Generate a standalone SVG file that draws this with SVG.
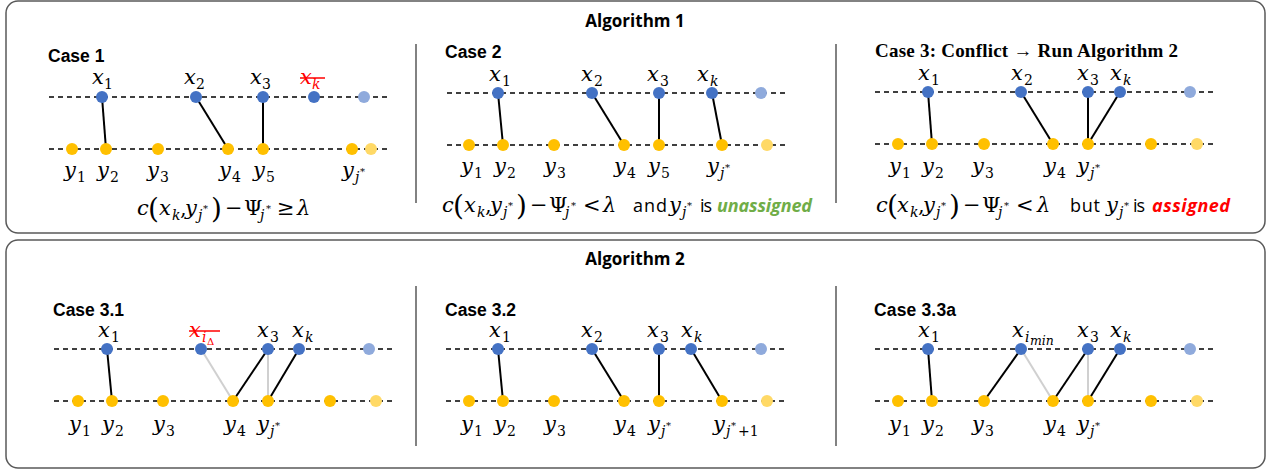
<svg xmlns="http://www.w3.org/2000/svg" width="1271" height="470" viewBox="0 0 1271 470">
<style>
.box{fill:#fff;stroke:#595959;stroke-width:1.5}
.sep{stroke:#595959;stroke-width:1.5}
.dash{stroke:#000;stroke-width:1.5;stroke-dasharray:5 4}
.e{stroke:#000;stroke-width:2}
.g{stroke:#D0D0D0;stroke-width:2}
.b{fill:#4472C4}.lb{fill:#8FAADC}.yl{fill:#FFC000}.ly{fill:#FFD966}
.title{font-family:"Open Sans","Liberation Sans",sans-serif;font-weight:bold;font-size:17px;fill:#000}
.case{font-family:"Liberation Sans",Arial,sans-serif;font-weight:bold;font-size:17.5px;fill:#000}
.case3{font-family:"Liberation Serif","Times New Roman",serif;font-weight:bold;font-size:19px;fill:#000}
.m{font-family:"DejaVu Serif",serif;font-style:italic;font-size:21px;fill:#000}
.u{font-style:normal}
.s{font-size:14px}
.st{font-size:10px;font-style:normal}
.ss{font-size:10px}
.mn{font-size:12.5px}
.big{font-size:28px;font-style:normal}
.t{font-family:"Open Sans","Liberation Sans",sans-serif;font-size:18px;fill:#000}
.bi{font-family:"Open Sans","Liberation Sans",sans-serif;font-size:18px;font-weight:bold;font-style:italic}
.red{fill:#FF0000}
.strike{stroke:#FF0000;stroke-width:1.5}
</style>
<rect class="box" x="6" y="1" width="1259" height="232" rx="12"/>
<rect class="box" x="6" y="240" width="1259" height="228" rx="12"/>
<text class="title" x="635" y="27" text-anchor="middle">Algorithm 1</text>
<text class="title" x="635" y="265" text-anchor="middle">Algorithm 2</text>
<line class="sep" x1="416" y1="44" x2="416" y2="203"/>
<line class="sep" x1="836" y1="44" x2="836" y2="203"/>
<line class="sep" x1="416" y1="286" x2="416" y2="446"/>
<line class="sep" x1="836" y1="286" x2="836" y2="446"/>

<!-- ===== Case 1 ===== -->
<g id="case1">
<text class="case" x="48" y="62">Case 1</text>
<line class="dash" x1="49" y1="97" x2="388" y2="97"/>
<line class="dash" x1="49" y1="149" x2="388" y2="149"/>
<g id="c1-edges">
<line class="e" x1="102" y1="97" x2="106" y2="149"/>
<line class="e" x1="196" y1="97" x2="228" y2="149"/>
<line class="e" x1="263" y1="97" x2="263" y2="149"/>
</g>
<g id="c1-x1"><circle class="b" cx="102" cy="97" r="6"/><text class="m" x="92" y="84">x<tspan class="s u" x="104" y="89">1</tspan></text></g>
<g id="c1-x2"><circle class="b" cx="196" cy="97" r="6"/><text class="m" x="184" y="84">x<tspan class="s u" x="196" y="89">2</tspan></text></g>
<g id="c1-x3"><circle class="b" cx="263" cy="97" r="6"/><text class="m" x="250" y="84">x<tspan class="s u" x="262" y="89">3</tspan></text></g>
<g id="c1-xk"><circle class="b" cx="314" cy="97" r="6"/><text class="m red" x="300" y="84">x<tspan class="s" x="312" y="89">k</tspan></text><line class="strike" x1="300" y1="78" x2="325" y2="78"/></g>
<g id="c1-xn"><circle class="lb" cx="364" cy="97" r="6"/></g>
<g id="c1-y1"><circle class="yl" cx="72" cy="149" r="6"/><text class="m" x="64" y="177">y<tspan class="s u" x="77" y="182">1</tspan></text></g>
<g id="c1-y2"><circle class="yl" cx="106" cy="149" r="6"/><text class="m" x="97" y="177">y<tspan class="s u" x="110" y="182">2</tspan></text></g>
<g id="c1-y3"><circle class="yl" cx="158" cy="149" r="6"/><text class="m" x="147" y="177">y<tspan class="s u" x="160" y="182">3</tspan></text></g>
<g id="c1-y4"><circle class="yl" cx="228" cy="149" r="6"/><text class="m" x="219" y="177">y<tspan class="s u" x="232" y="182">4</tspan></text></g>
<g id="c1-y5"><circle class="yl" cx="263" cy="149" r="6"/><text class="m" x="253" y="177">y<tspan class="s u" x="266" y="182">5</tspan></text></g>
<g id="c1-yj"><circle class="yl" cx="352" cy="149" r="6"/><text class="m" x="342" y="177">y<tspan class="s" x="355" y="182">j</tspan><tspan class="st" x="360" y="175">*</tspan></text></g>
<g id="c1-yn"><circle class="ly" cx="371" cy="149" r="6"/></g>
<text class="m" y="215"><tspan x="137">c</tspan><tspan class="big" x="148" y="218">(</tspan><tspan x="159" y="215">x</tspan><tspan class="s" x="172" y="220">k</tspan><tspan class="u" x="180" y="215">,</tspan><tspan x="185">y</tspan><tspan class="s" x="198" y="220">j</tspan><tspan class="st" x="203" y="212">*</tspan><tspan class="big" x="211" y="218">)</tspan><tspan class="u" x="225" y="215">−</tspan><tspan class="u" x="244">Ψ</tspan><tspan class="s" x="260" y="220">j</tspan><tspan class="st" x="266" y="212">*</tspan><tspan class="u" x="277" y="215">≥</tspan><tspan x="297">λ</tspan></text>
</g>

<!-- ===== Case 2 ===== -->
<g id="case2">
<text class="case" x="445" y="58">Case 2</text>
<line class="dash" x1="447" y1="93" x2="787" y2="93"/>
<line class="dash" x1="447" y1="145" x2="787" y2="145"/>
<g id="c2-edges">
<line class="e" x1="498" y1="93" x2="503" y2="145"/>
<line class="e" x1="592" y1="93" x2="624" y2="145"/>
<line class="e" x1="659" y1="93" x2="659" y2="145"/>
<line class="e" x1="712" y1="93" x2="722" y2="145"/>
</g>
<g id="c2-x1"><circle class="b" cx="498" cy="93" r="6"/><text class="m" x="489" y="81">x<tspan class="s u" x="502" y="86">1</tspan></text></g>
<g id="c2-x2"><circle class="b" cx="592" cy="93" r="6"/><text class="m" x="581" y="81">x<tspan class="s u" x="594" y="86">2</tspan></text></g>
<g id="c2-x3"><circle class="b" cx="659" cy="93" r="6"/><text class="m" x="647" y="81">x<tspan class="s u" x="660" y="86">3</tspan></text></g>
<g id="c2-xk"><circle class="b" cx="712" cy="93" r="6"/><text class="m" x="697" y="81">x<tspan class="s" x="710" y="86">k</tspan></text></g>
<g id="c2-xn"><circle class="lb" cx="761" cy="93" r="6"/></g>
<g id="c2-y1"><circle class="yl" cx="469" cy="145" r="6"/><text class="m" x="461" y="173">y<tspan class="s u" x="474" y="178">1</tspan></text></g>
<g id="c2-y2"><circle class="yl" cx="503" cy="145" r="6"/><text class="m" x="494" y="173">y<tspan class="s u" x="507" y="178">2</tspan></text></g>
<g id="c2-y3"><circle class="yl" cx="554" cy="145" r="6"/><text class="m" x="544" y="173">y<tspan class="s u" x="557" y="178">3</tspan></text></g>
<g id="c2-y4"><circle class="yl" cx="624" cy="145" r="6"/><text class="m" x="614" y="173">y<tspan class="s u" x="627" y="178">4</tspan></text></g>
<g id="c2-y5"><circle class="yl" cx="659" cy="145" r="6"/><text class="m" x="648" y="173">y<tspan class="s u" x="661" y="178">5</tspan></text></g>
<g id="c2-yj"><circle class="yl" cx="722" cy="145" r="6"/><text class="m" x="707" y="173">y<tspan class="s" x="720" y="178">j</tspan><tspan class="st" x="725" y="171">*</tspan></text></g>
<g id="c2-yn"><circle class="ly" cx="767" cy="145" r="6"/></g>
<text class="m" y="212"><tspan x="442">c</tspan><tspan class="big" x="453" y="215">(</tspan><tspan x="464" y="212">x</tspan><tspan class="s" x="477" y="217">k</tspan><tspan class="u" x="485" y="212">,</tspan><tspan x="490">y</tspan><tspan class="s" x="503" y="217">j</tspan><tspan class="st" x="508" y="209">*</tspan><tspan class="big" x="516" y="215">)</tspan><tspan class="u" x="530" y="212">−</tspan><tspan class="u" x="549">Ψ</tspan><tspan class="s" x="565" y="217">j</tspan><tspan class="st" x="571" y="209">*</tspan><tspan class="u" x="583" y="212">&lt;</tspan><tspan x="603">λ</tspan><tspan x="669">y</tspan><tspan class="s" x="682" y="217">j</tspan><tspan class="st" x="687" y="209">*</tspan></text>
<text class="t" x="633" y="212" textLength="34">and</text>
<text class="t" x="700" y="212" textLength="12">is</text>
<text class="bi" x="717" y="212" fill="#70AD47" textLength="95">unassigned</text>
</g>

<!-- ===== Case 3 ===== -->
<g id="case3">
<text class="case3" x="875" y="57" textLength="303">Case 3: Conflict → Run Algorithm 2</text>
<line class="dash" x1="875" y1="92" x2="1217" y2="92"/>
<line class="dash" x1="875" y1="144" x2="1217" y2="144"/>
<g id="c3-edges">
<line class="e" x1="928" y1="92" x2="932" y2="144"/>
<line class="e" x1="1021" y1="92" x2="1053" y2="144"/>
<line class="e" x1="1088" y1="92" x2="1088" y2="144"/>
<line class="e" x1="1120" y1="92" x2="1088" y2="144"/>
</g>
<g id="c3-x1"><circle class="b" cx="928" cy="92" r="6"/><text class="m" x="918" y="80">x<tspan class="s u" x="931" y="85">1</tspan></text></g>
<g id="c3-x2"><circle class="b" cx="1021" cy="92" r="6"/><text class="m" x="1011" y="80">x<tspan class="s u" x="1024" y="85">2</tspan></text></g>
<g id="c3-x3"><circle class="b" cx="1088" cy="92" r="6"/><text class="m" x="1077" y="80">x<tspan class="s u" x="1090" y="85">3</tspan></text></g>
<g id="c3-xk"><circle class="b" cx="1120" cy="92" r="6"/><text class="m" x="1110" y="80">x<tspan class="s" x="1123" y="85">k</tspan></text></g>
<g id="c3-xn"><circle class="lb" cx="1190" cy="92" r="6"/></g>
<g id="c3-y1"><circle class="yl" cx="898" cy="144" r="6"/><text class="m" x="889" y="173">y<tspan class="s u" x="902" y="178">1</tspan></text></g>
<g id="c3-y2"><circle class="yl" cx="932" cy="144" r="6"/><text class="m" x="922" y="173">y<tspan class="s u" x="935" y="178">2</tspan></text></g>
<g id="c3-y3"><circle class="yl" cx="984" cy="144" r="6"/><text class="m" x="972" y="173">y<tspan class="s u" x="985" y="178">3</tspan></text></g>
<g id="c3-y4"><circle class="yl" cx="1053" cy="144" r="6"/><text class="m" x="1044" y="173">y<tspan class="s u" x="1057" y="178">4</tspan></text></g>
<g id="c3-yj"><circle class="yl" cx="1088" cy="144" r="6"/><text class="m" x="1077" y="173">y<tspan class="s" x="1090" y="178">j</tspan><tspan class="st" x="1095" y="171">*</tspan></text></g>
<g id="c3-y6"><circle class="yl" cx="1151" cy="144" r="6"/></g>
<g id="c3-yn"><circle class="ly" cx="1197" cy="144" r="6"/></g>
<text class="m" y="212"><tspan x="876">c</tspan><tspan class="big" x="887" y="215">(</tspan><tspan x="897" y="212">x</tspan><tspan class="s" x="910" y="217">k</tspan><tspan class="u" x="918" y="212">,</tspan><tspan x="923">y</tspan><tspan class="s" x="936" y="217">j</tspan><tspan class="st" x="941" y="209">*</tspan><tspan class="big" x="949" y="215">)</tspan><tspan class="u" x="963" y="212">−</tspan><tspan class="u" x="982">Ψ</tspan><tspan class="s" x="998" y="217">j</tspan><tspan class="st" x="1004" y="209">*</tspan><tspan class="u" x="1016" y="212">&lt;</tspan><tspan x="1037">λ</tspan><tspan x="1106">y</tspan><tspan class="s" x="1119" y="217">j</tspan><tspan class="st" x="1124" y="209">*</tspan></text>
<text class="t" x="1070" y="212" textLength="30">but</text>
<text class="t" x="1133" y="212" textLength="12">is</text>
<text class="bi" x="1152" y="212" fill="#FF0000" textLength="78">assigned</text>
</g>

<!-- ===== Case 3.1 ===== -->
<g id="case31">
<text class="case" x="53" y="316" textLength="71">Case 3.1</text>
<line class="dash" x1="54" y1="349" x2="395" y2="349"/>
<line class="dash" x1="54" y1="401" x2="395" y2="401"/>
<g id="c31-edges">
<line class="g" x1="201" y1="349" x2="233" y2="401"/>
<line class="g" x1="268" y1="349" x2="268" y2="401"/>
<line class="e" x1="107" y1="349" x2="112" y2="401"/>
<line class="e" x1="268" y1="349" x2="233" y2="401"/>
<line class="e" x1="299" y1="349" x2="268" y2="401"/>
</g>
<g id="c31-x1"><circle class="b" cx="107" cy="349" r="6"/><text class="m" x="98" y="337">x<tspan class="s u" x="111" y="342">1</tspan></text></g>
<g id="c31-xd"><circle class="b" cx="201" cy="349" r="6"/><text class="m red" x="189" y="337">x<tspan class="s" x="202" y="342">i</tspan><tspan class="ss u" x="207" y="345">Δ</tspan></text><line class="strike" x1="189" y1="331" x2="220" y2="331"/></g>
<g id="c31-x3"><circle class="b" cx="268" cy="349" r="6"/><text class="m" x="257" y="337">x<tspan class="s u" x="270" y="342">3</tspan></text></g>
<g id="c31-xk"><circle class="b" cx="299" cy="349" r="6"/><text class="m" x="292" y="337">x<tspan class="s" x="305" y="342">k</tspan></text></g>
<g id="c31-xn"><circle class="lb" cx="369" cy="349" r="6"/></g>
<g id="c31-y1"><circle class="yl" cx="78" cy="401" r="6"/><text class="m" x="69" y="431">y<tspan class="s u" x="82" y="436">1</tspan></text></g>
<g id="c31-y2"><circle class="yl" cx="112" cy="401" r="6"/><text class="m" x="102" y="431">y<tspan class="s u" x="115" y="436">2</tspan></text></g>
<g id="c31-y3"><circle class="yl" cx="163" cy="401" r="6"/><text class="m" x="153" y="431">y<tspan class="s u" x="166" y="436">3</tspan></text></g>
<g id="c31-y4"><circle class="yl" cx="233" cy="401" r="6"/><text class="m" x="224" y="431">y<tspan class="s u" x="237" y="436">4</tspan></text></g>
<g id="c31-yj"><circle class="yl" cx="268" cy="401" r="6"/><text class="m" x="257" y="431">y<tspan class="s" x="270" y="436">j</tspan><tspan class="st" x="275" y="429">*</tspan></text></g>
<g id="c31-y6"><circle class="yl" cx="330" cy="401" r="6"/></g>
<g id="c31-yn"><circle class="ly" cx="376" cy="401" r="6"/></g>
</g>

<!-- ===== Case 3.2 ===== -->
<g id="case32">
<text class="case" x="445" y="316" textLength="71">Case 3.2</text>
<line class="dash" x1="446" y1="349" x2="787" y2="349"/>
<line class="dash" x1="446" y1="401" x2="787" y2="401"/>
<g id="c32-edges">
<line class="e" x1="498" y1="349" x2="503" y2="401"/>
<line class="e" x1="592" y1="349" x2="624" y2="401"/>
<line class="e" x1="659" y1="349" x2="659" y2="401"/>
<line class="e" x1="691" y1="349" x2="722" y2="401"/>
</g>
<g id="c32-x1"><circle class="b" cx="498" cy="349" r="6"/><text class="m" x="489" y="337">x<tspan class="s u" x="502" y="342">1</tspan></text></g>
<g id="c32-x2"><circle class="b" cx="592" cy="349" r="6"/><text class="m" x="581" y="337">x<tspan class="s u" x="594" y="342">2</tspan></text></g>
<g id="c32-x3"><circle class="b" cx="659" cy="349" r="6"/><text class="m" x="647" y="337">x<tspan class="s u" x="660" y="342">3</tspan></text></g>
<g id="c32-xk"><circle class="b" cx="691" cy="349" r="6"/><text class="m" x="681" y="337">x<tspan class="s" x="694" y="342">k</tspan></text></g>
<g id="c32-xn"><circle class="lb" cx="761" cy="349" r="6"/></g>
<g id="c32-y1"><circle class="yl" cx="469" cy="401" r="6"/><text class="m" x="461" y="431">y<tspan class="s u" x="474" y="436">1</tspan></text></g>
<g id="c32-y2"><circle class="yl" cx="503" cy="401" r="6"/><text class="m" x="494" y="431">y<tspan class="s u" x="507" y="436">2</tspan></text></g>
<g id="c32-y3"><circle class="yl" cx="554" cy="401" r="6"/><text class="m" x="544" y="431">y<tspan class="s u" x="557" y="436">3</tspan></text></g>
<g id="c32-y4"><circle class="yl" cx="624" cy="401" r="6"/><text class="m" x="614" y="431">y<tspan class="s u" x="627" y="436">4</tspan></text></g>
<g id="c32-yj"><circle class="yl" cx="659" cy="401" r="6"/><text class="m" x="648" y="431">y<tspan class="s" x="661" y="436">j</tspan><tspan class="st" x="666" y="429">*</tspan></text></g>
<g id="c32-yj1"><circle class="yl" cx="722" cy="401" r="6"/><text class="m" x="713" y="431">y<tspan class="s" x="726" y="436">j</tspan><tspan class="st" x="731" y="429">*</tspan><tspan class="s u" x="738" y="436">+1</tspan></text></g>
<g id="c32-yn"><circle class="ly" cx="767" cy="401" r="6"/></g>
</g>

<!-- ===== Case 3.3a ===== -->
<g id="case33a">
<text class="case" x="874" y="316" textLength="82">Case 3.3a</text>
<line class="dash" x1="875" y1="349" x2="1217" y2="349"/>
<line class="dash" x1="875" y1="401" x2="1217" y2="401"/>
<g id="c33-edges">
<line class="g" x1="1021" y1="349" x2="1053" y2="401"/>
<line class="g" x1="1088" y1="349" x2="1088" y2="401"/>
<line class="e" x1="928" y1="349" x2="932" y2="401"/>
<line class="e" x1="1021" y1="349" x2="984" y2="401"/>
<line class="e" x1="1088" y1="349" x2="1053" y2="401"/>
<line class="e" x1="1120" y1="349" x2="1088" y2="401"/>
</g>
<g id="c33-x1"><circle class="b" cx="928" cy="349" r="6"/><text class="m" x="918" y="337">x<tspan class="s u" x="931" y="342">1</tspan></text></g>
<g id="c33-xi"><circle class="b" cx="1021" cy="349" r="6"/><text class="m" x="1012" y="337">x<tspan class="s" x="1025" y="342">i</tspan><tspan class="mn" x="1030" y="345">min</tspan></text></g>
<g id="c33-x3"><circle class="b" cx="1088" cy="349" r="6"/><text class="m" x="1077" y="337">x<tspan class="s u" x="1090" y="342">3</tspan></text></g>
<g id="c33-xk"><circle class="b" cx="1120" cy="349" r="6"/><text class="m" x="1110" y="337">x<tspan class="s" x="1123" y="342">k</tspan></text></g>
<g id="c33-xn"><circle class="lb" cx="1190" cy="349" r="6"/></g>
<g id="c33-y1"><circle class="yl" cx="898" cy="401" r="6"/><text class="m" x="889" y="431">y<tspan class="s u" x="902" y="436">1</tspan></text></g>
<g id="c33-y2"><circle class="yl" cx="932" cy="401" r="6"/><text class="m" x="922" y="431">y<tspan class="s u" x="935" y="436">2</tspan></text></g>
<g id="c33-y3"><circle class="yl" cx="984" cy="401" r="6"/><text class="m" x="972" y="431">y<tspan class="s u" x="985" y="436">3</tspan></text></g>
<g id="c33-y4"><circle class="yl" cx="1053" cy="401" r="6"/><text class="m" x="1044" y="431">y<tspan class="s u" x="1057" y="436">4</tspan></text></g>
<g id="c33-yj"><circle class="yl" cx="1088" cy="401" r="6"/><text class="m" x="1077" y="431">y<tspan class="s" x="1090" y="436">j</tspan><tspan class="st" x="1095" y="429">*</tspan></text></g>
<g id="c33-y6"><circle class="yl" cx="1151" cy="401" r="6"/></g>
<g id="c33-yn"><circle class="ly" cx="1197" cy="401" r="6"/></g>
</g>
</svg>
